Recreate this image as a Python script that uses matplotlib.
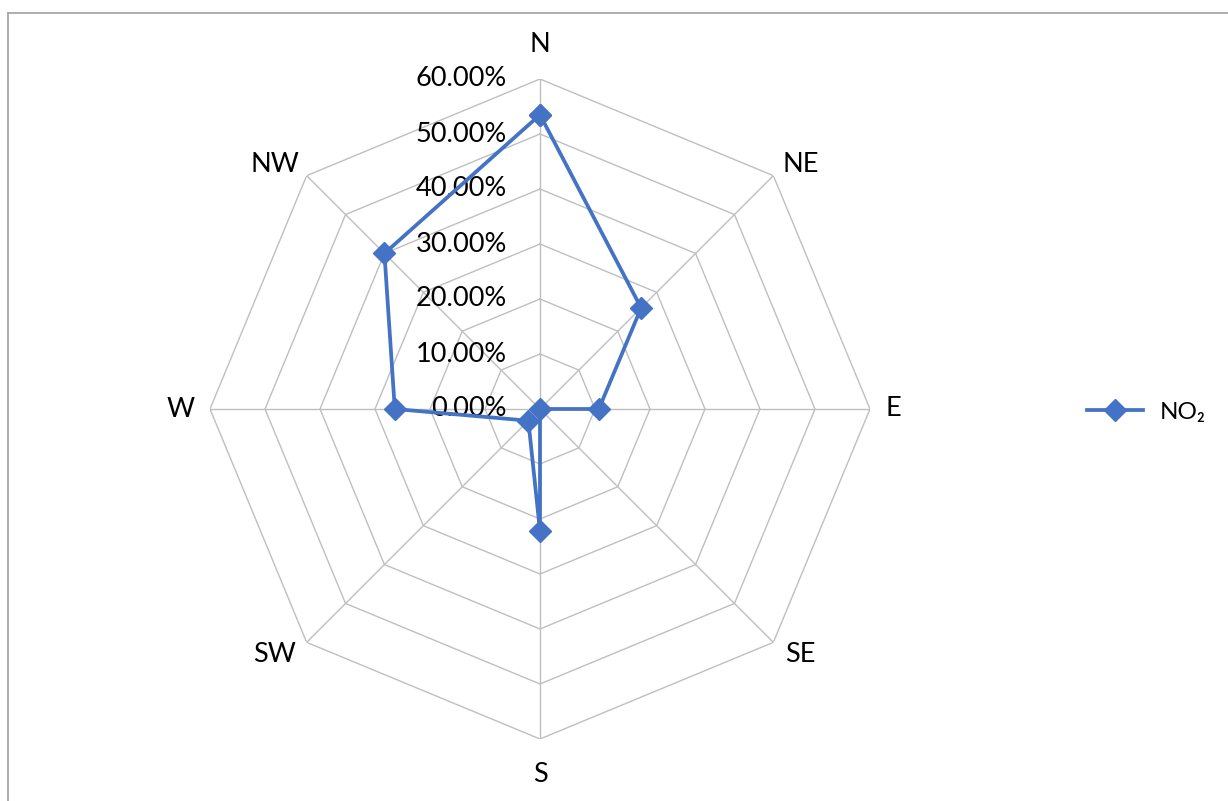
import numpy as np
import matplotlib
matplotlib.use("Agg")
import matplotlib.pyplot as plt
from matplotlib.lines import Line2D

plt.rcParams['font.family'] = ['Lato', 'DejaVu Sans']

directions = ["N", "NE", "E", "SE", "S", "SW", "W", "NW"]
no2 = [0.535, 0.26, 0.107, 0.0, 0.222, 0.03, 0.264, 0.40]
ring_values = [0.0, 0.1, 0.2, 0.3, 0.4, 0.5, 0.6]
ring_labels = ["0.00%", "10.00%", "20.00%", "30.00%", "40.00%", "50.00%", "60.00%"]
series_name = "NO\u2082"

W, H = 1228, 801
fig = plt.figure(figsize=(W / 100, H / 100), dpi=100)
cx, cy, R = 540, 409, 330
ax = fig.add_axes([(cx - R) / W, (H - cy - R) / H, 2 * R / W, 2 * R / H], projection='polar')
ax.set_theta_zero_location('N')
ax.set_theta_direction(-1)
ax.set_ylim(0, ring_values[-1])
ax.grid(False)
ax.spines['polar'].set_visible(False)
ax.patch.set_alpha(0)

n = len(directions)
angles = np.arange(n) * 2 * np.pi / n
closed = np.append(angles, angles[0])

grid_color = '#bfbfbf'
for v in ring_values[1:]:
    ax.plot(closed, [v] * (n + 1), color=grid_color, lw=1.0, zorder=1)
for a in angles:
    ax.plot([a, a], [0, ring_values[-1]], color=grid_color, lw=1.0, zorder=1)

ax.set_yticks(ring_values)
ax.set_yticklabels([])
for v, lab in zip(ring_values, ring_labels):
    ax.annotate(lab, xy=(0, v), xytext=(-33 * 0.72, 0), textcoords='offset points',
                ha='right', va='center', fontsize=19.5, color='#000000', zorder=2)

# category labels, offset (pixels) from each spoke tip
ax.set_xticks(angles)
ax.set_xticklabels([])
offsets_px = [(0, 34), (27, 11), (23, 0), (27, -12), (0, -35), (-32, -12), (-29, 0), (-32, 11)]
for a, lab, (dx, dy) in zip(angles, directions, offsets_px):
    ax.annotate(lab, xy=(a, ring_values[-1]), xytext=(dx * 0.72, dy * 0.72),
                textcoords='offset points', ha='center', va='center',
                fontsize=19.5, color='#000000', annotation_clip=False)

vals = np.append(no2, no2[0])
ax.plot(closed, vals, color='#4472C4', lw=2.7, marker='D', markersize=11,
        markeredgecolor='#4472C4', markerfacecolor='#4472C4', label=series_name, zorder=3, clip_on=False)

fig.legend(handles=[Line2D([], [], color='#4472C4', lw=2.7, marker='D', markersize=11)],
           labels=[series_name], loc='center left', bbox_to_anchor=(1065 / W, 1 - 412 / H),
           frameon=False, fontsize=17.5, handlelength=2.3, handletextpad=0.7)

fig.add_artist(Line2D([8 / W, 8 / W], [0, 1 - 13 / H], color='#a0a0a0', lw=1.2, transform=fig.transFigure))
fig.add_artist(Line2D([8 / W, 1], [1 - 13 / H, 1 - 13 / H], color='#a0a0a0', lw=1.2, transform=fig.transFigure))

fig.savefig("out.png", dpi=100, facecolor='white')
